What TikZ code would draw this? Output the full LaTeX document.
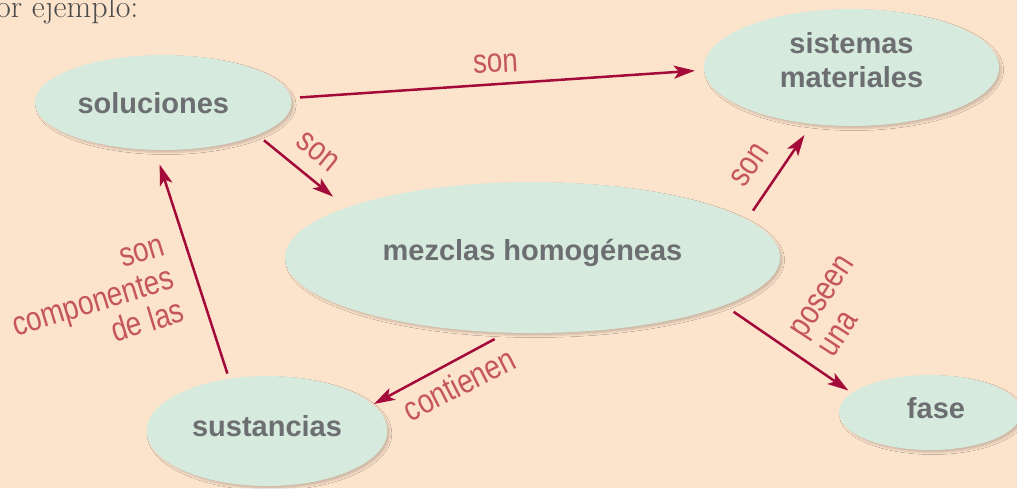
\documentclass[tikz,border=0pt]{standalone}
\usepackage{fontspec}
\newfontfamily\nodefont{Liberation Sans}
\newfontfamily\labfont{Liberation Sans}[FakeStretch=0.82]
\usetikzlibrary{shapes.geometric, arrows.meta, shadows.blur}
\definecolor{bgc}{RGB}{252,227,204}
\definecolor{ellc}{RGB}{214,235,221}
\definecolor{nodetc}{RGB}{109,110,113}
\definecolor{labc}{RGB}{196,86,92}
\definecolor{arrc}{RGB}{163,10,58}
\definecolor{introc}{RGB}{75,75,75}
\tikzset{
  ell/.style={ellipse, fill=ellc, inner sep=0pt, outer sep=0pt,
    text=nodetc, font=\nodefont\bfseries\fontsize{29}{34}\selectfont,
    blur shadow={shadow xshift=2.5pt, shadow yshift=-2.5pt, shadow blur radius=2pt, shadow opacity=18}},
  lab/.style={text=labc, inner sep=0pt, font=\labfont\fontsize{34}{34.5}\selectfont},
  arr/.style={draw=arrc, line width=2.5pt, -{Stealth[length=21pt,width=13pt,inset=5pt]}}
}
\begin{document}
\begin{tikzpicture}[x=1pt,y=-1pt]
\useasboundingbox (0,0) rectangle (1017,488);
\fill[bgc] (0,0) rectangle (1017,488);
\node[anchor=base west, inner sep=0pt, text=introc, font=\fontsize{32}{33}\selectfont] (intro) at (-4,17) {or ejemplo:};

\node[ell, minimum width=256.6pt, minimum height=95pt, text height=21pt, text depth=0pt] (sol) at (163.3,102.5) {soluciones\hspace*{20pt}};
\node[ell, minimum width=295pt, minimum height=117pt, align=center, text height=39pt, text depth=0pt] (sis) at (851.5,67.5) {sistemas\\materiales};
\node[ell, minimum width=495pt, minimum height=151pt, text height=21pt, text depth=16pt] (mez) at (532.5,257.5) {mezclas homogéneas};
\node[ell, minimum width=240.6pt, minimum height=110pt, text height=21pt, text depth=11pt] (sus) at (267,431) {sustancias};
\node[ell, minimum width=182pt, minimum height=75pt, text height=21pt, text depth=9.4pt] (fase) at (930,412.5) {\hspace*{12pt}fase};

\draw[arr, shorten <=9pt, shorten >=9.3pt] (sol.2) -- (sis.181);
\draw[arr, shorten <=8.7pt, shorten >=17.4pt] (sol.-19) -- (mez.165);
\draw[arr, shorten <=11pt, shorten >=13.4pt] (mez.10) -- (sis.235);
\draw[arr, shorten <=11.5pt, shorten >=4.6pt] (mez.-14) -- (fase.166);
\draw[arr, shorten <=13.6pt, shorten >=1.5pt] (mez.251) -- (sus.14);
\draw[arr, shorten <=5.5pt, shorten >=15.3pt] (sus.126) -- (sol.260);

\node[lab, rotate=3] (l1) at (495.5,63.5) {son};
\node[lab, rotate=-39] (l2) at (318,152) {son};
\node[lab, rotate=56] (l3) at (750,165) {son};
\node[lab, rotate=57, align=left] (l4) at (836.5,306) {poseen\\una};
\node[lab, rotate=27] (l5) at (459,384) {contienen};
\node[lab, rotate=17, align=right] (l6) at (93.5,303.5) {son\\componentes\\de las};
\end{tikzpicture}
\end{document}
